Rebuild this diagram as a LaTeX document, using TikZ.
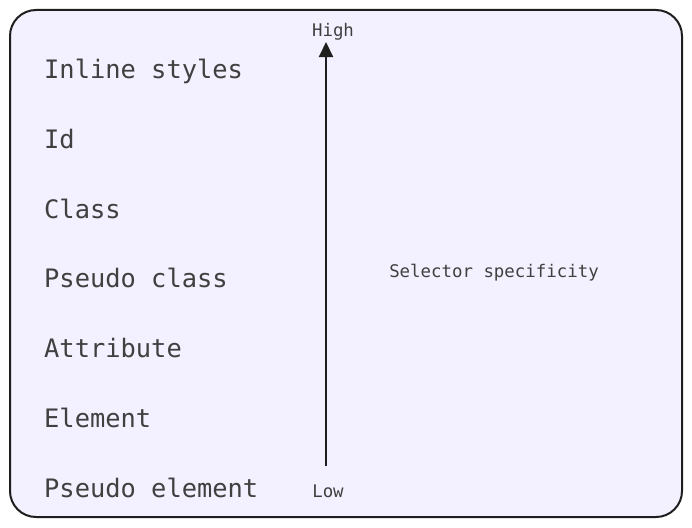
\documentclass[tikz,border=0pt]{standalone}
\usepackage{fontspec}
\setmonofont{DejaVu Sans Mono}
\usetikzlibrary{arrows.meta}
\definecolor{boxfill}{HTML}{F3F0FF}
\definecolor{ink}{HTML}{1E1E1E}
\tikzset{
  big/.style={font=\ttfamily\fontsize{25.4}{28}\selectfont, text=ink!85, anchor=base west, inner sep=0pt},
  small/.style={font=\ttfamily\fontsize{17.4}{20}\selectfont, text=ink!85, anchor=base, inner sep=0pt},
}
\begin{document}
\begin{tikzpicture}[x=1pt,y=-1pt]
\useasboundingbox (0,0) rectangle (692,527);
\draw[ink, line width=2pt, fill=boxfill, rounded corners=26pt] (10,10) rectangle (682,517);
\node[big] (l1) at (44,78) {Inline styles};
\node[big] (l2) at (44,148) {Id};
\node[big] (l3) at (44,218) {Class};
\node[big] (l4) at (44,287) {Pseudo class};
\node[big] (l5) at (44,357) {Attribute};
\node[big] (l6) at (44,427) {Element};
\node[big] (l7) at (44,497) {Pseudo element};
\node[small] (hi) at (333,37) {High};
\node[small] (lo) at (328,497) {Low};
\node[small] (sel) at (494,277) {Selector specificity};
\coordinate (a0) at (326,466);
\coordinate (a1) at (326,42);
\draw[ink, line width=2pt, -{Triangle[length=15pt,width=14pt]}] (a0) -- (a1);
\end{tikzpicture}
\end{document}
